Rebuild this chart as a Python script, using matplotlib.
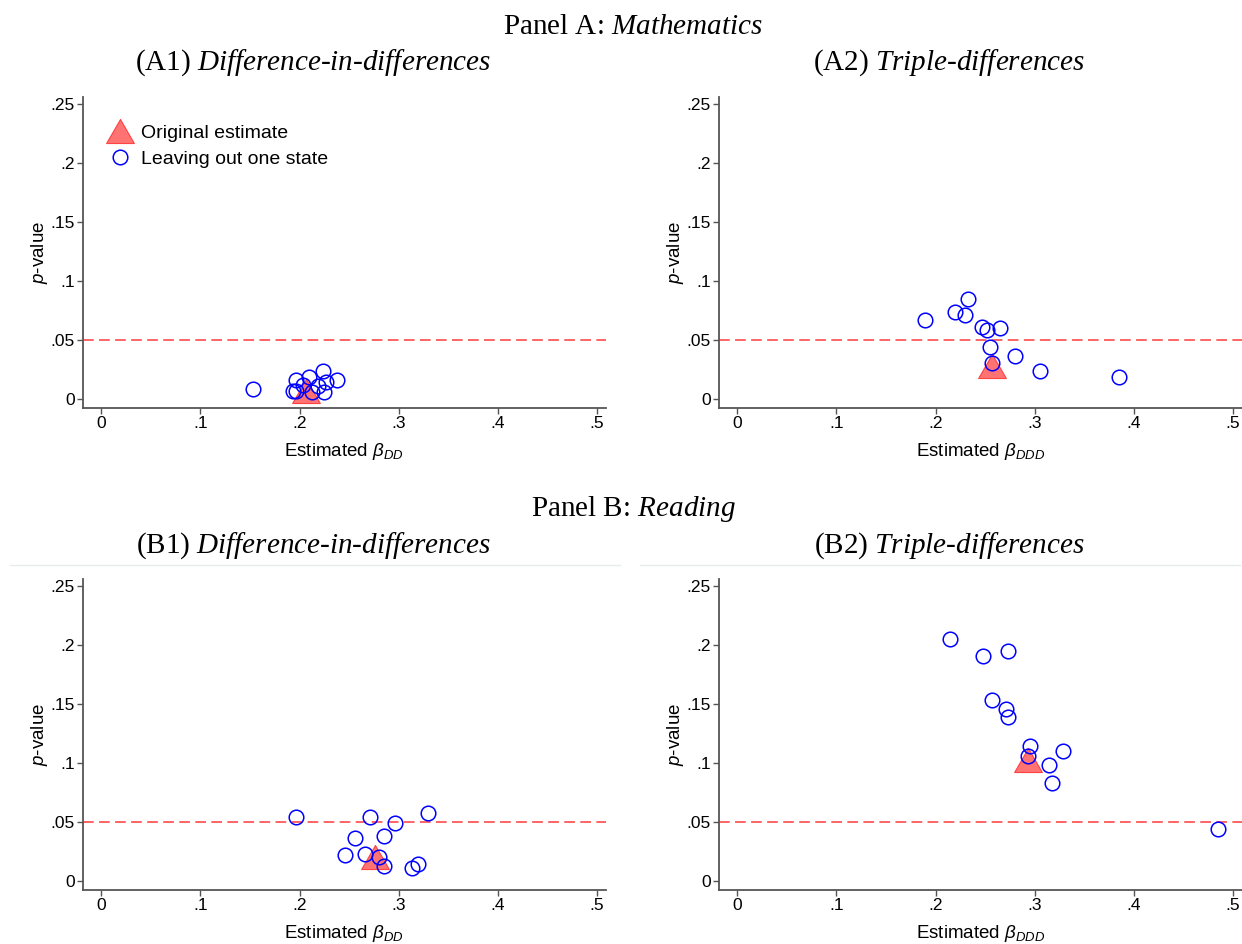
import matplotlib.pyplot as plt
from matplotlib.lines import Line2D

plt.rcParams['font.family'] = ['Liberation Sans', 'DejaVu Sans']
plt.rcParams['mathtext.fontset'] = 'custom'
plt.rcParams['mathtext.it'] = 'Liberation Serif:italic'
plt.rcParams['mathtext.rm'] = 'Liberation Serif'
plt.rcParams['mathtext.sf'] = 'Liberation Sans:italic'

# leave-one-state-out estimates (beta, p-value)
a1_beta = [0.153, 0.196, 0.193, 0.2095, 0.2236, 0.2377, 0.2263, 0.2189, 0.225, 0.2128, 0.1967, 0.2034]
a1_pval = [0.0081, 0.016, 0.007, 0.0183, 0.0236, 0.016, 0.0146, 0.0112, 0.0059, 0.0059, 0.0067, 0.0118]
a1_orig = (0.2068, 0.007)

a2_beta = [0.189, 0.2198, 0.2299, 0.2328, 0.2472, 0.2523, 0.2652, 0.2544, 0.2566, 0.2804, 0.3056, 0.3849]
a2_pval = [0.067, 0.0741, 0.071, 0.0849, 0.0611, 0.0582, 0.0602, 0.0443, 0.0307, 0.0366, 0.0241, 0.019]
a2_orig = (0.2566, 0.028)

b1_beta = [0.196, 0.2705, 0.2958, 0.3294, 0.2556, 0.2854, 0.2459, 0.266, 0.2802, 0.2846, 0.313, 0.3189]
b1_pval = [0.054, 0.054, 0.0494, 0.058, 0.0361, 0.0381, 0.0219, 0.023, 0.0205, 0.0131, 0.0108, 0.0145]
b1_orig = (0.2765, 0.0205)

b2_beta = [0.214, 0.2479, 0.2732, 0.2573, 0.271, 0.2732, 0.2948, 0.2933, 0.3286, 0.3142, 0.3178, 0.485]
b2_pval = [0.2051, 0.1909, 0.1952, 0.1531, 0.1455, 0.1392, 0.1142, 0.1063, 0.11, 0.0983, 0.083, 0.044]
b2_orig = (0.293, 0.1023)

xticks = [0, 0.1, 0.2, 0.3, 0.4, 0.5]
xtick_labels = ['0', '.1', '.2', '.3', '.4', '.5']
yticks = [0, 0.05, 0.1, 0.15, 0.2, 0.25]
ytick_labels = ['0', '.05', '.1', '.15', '.2', '.25']
threshold = 0.05

W, H = 1242, 944
fig = plt.figure(figsize=(W / 100, H / 100), dpi=100)

# equilateral triangle marker
tri = [(0, 0.866), (-1, -0.866), (1, -0.866), (0, 0.866)]
tri_style = dict(marker=tri, markersize=20, color='#ff5a5a', alpha=0.85,
                 markeredgecolor='#ff3030', markeredgewidth=0.8, linestyle='none')
circ_style = dict(marker='o', markersize=10.5, markerfacecolor='none',
                  markeredgecolor='#0000ff', markeredgewidth=1.1, linestyle='none')


def make_panel(l, r, t, b, beta, pval, orig, sub, legend=False):
    ax = fig.add_axes([l / W, 1 - b / H, (r - l) / W, (b - t) / H])
    ax.axhline(threshold, color='#ff3b3b', lw=1.1, dashes=(7, 3.5), zorder=1)
    ax.plot([orig[0]], [orig[1]], zorder=2, label='Original estimate', **tri_style)
    ax.plot(beta, pval, zorder=3, label='Leaving out one state', **circ_style)
    ax.set_xlim(-0.0185, 0.509)
    ax.set_ylim(-0.0076, 0.256)
    ax.set_xticks(xticks, xtick_labels)
    ax.set_yticks(yticks, ytick_labels)
    for s in ['top', 'right']:
        ax.spines[s].set_visible(False)
    for s in ['left', 'bottom']:
        ax.spines[s].set_color('#555555')
        ax.spines[s].set_linewidth(1.3)
    ax.tick_params(length=4, width=1, color='#555555', labelsize=12.5, pad=2)
    ax.set_xlabel('Estimated $\\mathsf{\\beta_{' + sub + '}}$', fontsize=13.5, labelpad=7)
    ax.set_ylabel('$\\mathsf{p}$-value', fontsize=13.5, labelpad=0)
    if legend:
        ax.legend(loc='upper left', bbox_to_anchor=(0.018, 0.95), frameon=False,
                  fontsize=14, handletextpad=0.3, borderaxespad=0.2, labelspacing=0.45,
                  handlelength=1.6)
    return ax


make_panel(83, 606, 97, 408, a1_beta, a1_pval, a1_orig, 'DD', legend=True)
make_panel(719, 1242, 97, 408, a2_beta, a2_pval, a2_orig, 'DDD')
make_panel(83, 606, 579, 890, b1_beta, b1_pval, b1_orig, 'DD')
make_panel(719, 1242, 579, 890, b2_beta, b2_pval, b2_orig, 'DDD')

# faint graph-region borders
fig.add_artist(Line2D([10 / W, 620 / W], [1 - 565 / H] * 2, color='#e6ecee', lw=1))
fig.add_artist(Line2D([640 / W, 1240 / W], [1 - 565 / H] * 2, color='#e6ecee', lw=1))

serif = ['Liberation Serif', 'DejaVu Serif']
tsize = 21
fig.text(633 / W, 1 - 27 / H, 'Panel A: $\\mathit{Mathematics}$', ha='center', va='center',
         fontsize=tsize, family=serif)
fig.text(313 / W, 1 - 63 / H, '(A1) $\\mathit{Difference}$-$\\mathit{in}$-$\\mathit{differences}$',
         ha='center', va='center', fontsize=tsize, family=serif)
fig.text(949 / W, 1 - 63 / H, '(A2) $\\mathit{Triple}$-$\\mathit{differences}$',
         ha='center', va='center', fontsize=tsize, family=serif)
fig.text(633 / W, 1 - 509 / H, 'Panel B: $\\mathit{Reading}$', ha='center', va='center',
         fontsize=tsize, family=serif)
fig.text(313 / W, 1 - 546 / H, '(B1) $\\mathit{Difference}$-$\\mathit{in}$-$\\mathit{differences}$',
         ha='center', va='center', fontsize=tsize, family=serif)
fig.text(949 / W, 1 - 546 / H, '(B2) $\\mathit{Triple}$-$\\mathit{differences}$',
         ha='center', va='center', fontsize=tsize, family=serif)

fig.savefig('out.png', dpi=100)
